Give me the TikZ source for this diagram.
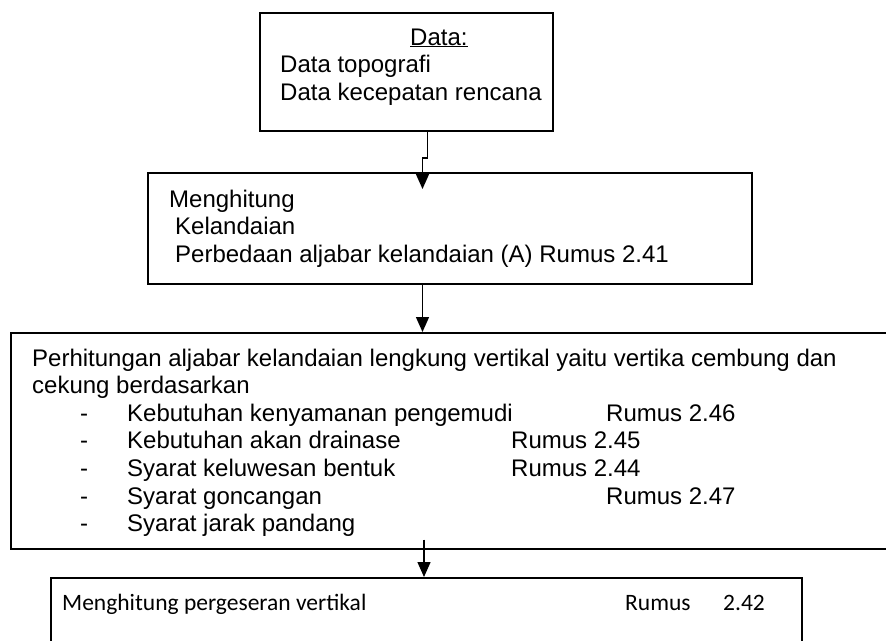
\documentclass[tikz,border=0pt]{standalone}
\usepackage{fontspec}
\setmainfont{Liberation Sans}
\newfontfamily\bodyfont{Carlito}
\usetikzlibrary{arrows.meta}
\begin{document}
\begin{tikzpicture}[x=1pt,y=-1pt,
  box/.style={draw, line width=1.5pt, inner sep=0pt, anchor=north west},
  txt/.style={anchor=base west, inner sep=0pt, font=\fontsize{24}{27.6}\selectfont},
  cal/.style={anchor=base west, inner sep=0pt, font=\bodyfont\fontsize{23.5}{27}\selectfont},
  arr/.style={line width=1.4pt, -{Triangle[width=13pt,length=15pt]}}]
\useasboundingbox (0,0) rectangle (886,640);
\fill[white] (0,0) rectangle (886,640);

% boxes
\node[box, minimum width=293pt, minimum height=118pt] (b1) at (259,12) {};
\node[box, minimum width=604pt, minimum height=111pt] (b2) at (147,172) {};
\node[box, minimum width=876pt, minimum height=216pt] (b3) at (10,332) {};
\node[box, minimum width=751pt, minimum height=70pt] (b4) at (50,577) {};

% box 1 text
\node[txt] (t11) at (410,45) {\underline{Data:}};
\node[txt] (t12) at (280,72.6) {Data topografi};
\node[txt] (t13) at (280,100.2) {Data kecepatan rencana};

% box 2 text
\node[txt] (t21) at (169,207) {Menghitung};
\node[txt] (t22) at (175,234.6) {Kelandaian};
\node[txt] (t23) at (175,262.2) {Perbedaan aljabar kelandaian (A) Rumus 2.41};

% box 3 text
\node[txt] (t31) at (32,366) {Perhitungan aljabar kelandaian lengkung vertikal yaitu vertika cembung dan};
\node[txt] (t32) at (32,393.6) {cekung berdasarkan};
\foreach \i/\y/\item/\rx/\rn in {
  1/421.2/Kebutuhan kenyamanan pengemudi/606/2.46,
  2/448.8/Kebutuhan akan drainase/511/2.45,
  3/476.4/Syarat keluwesan bentuk/511/2.44,
  4/504/Syarat goncangan/606/2.47}{
  \node[txt] (d\i) at (80,\y) {-};
  \node[txt] (s\i) at (127,\y) {\item};
  \node[txt] (r\i) at (\rx,\y) {Rumus \rn};
}
\node[txt] (d5) at (80,531.6) {-};
\node[txt] (s5) at (127,531.6) {Syarat jarak pandang};

% box 4 text
\node[cal] (t41) at (62,610) {Menghitung pergeseran vertikal};
\node[cal] (t42) at (625,610) {Rumus};
\node[cal] (t43) at (723,610) {2.42};

% connectors
\coordinate (j1) at (427.7,158);
\coordinate (j2) at (422.5,158);
\coordinate (c2) at (422.5,0);
\coordinate (c3) at (424,0);
\draw[arr] (b1.south -| j1) -- (j1) -- (j2) -- ([yshift=-17pt]b2.north -| j2);
\draw[arr] (b2.south -| c2) -- (b3.north -| c2);
\draw[arr] ([yshift=10pt]b3.south -| c3) -- (b4.north -| c3);
\end{tikzpicture}
\end{document}
